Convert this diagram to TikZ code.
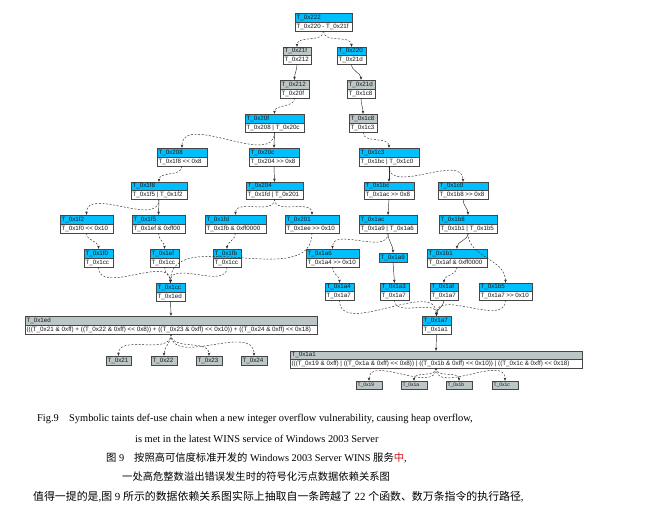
\documentclass[tikz,border=0pt]{standalone}
\usepackage{fontspec}
\setmainfont{Liberation Serif}
\newfontfamily\nodefont{Liberation Sans}
\newfontfamily\cjk{Noto Sans CJK SC}
\usetikzlibrary{fit,calc,arrows.meta}
\definecolor{hcyan}{RGB}{0,191,255}
\definecolor{hgray}{RGB}{188,198,198}
\definecolor{edgec}{RGB}{45,45,45}
\definecolor{bordc}{RGB}{70,70,70}
\definecolor{redchar}{RGB}{210,20,20}
\tikzset{
  recframe/.style={rectangle, inner sep=0pt, fill=white, draw=none},
  recline/.style={draw=bordc, line width=0.45pt},
  boxshadow/.style={fill=black!55},
  rectxt/.style={inner sep=0pt, anchor=west, text=black!90, font=\nodefont\fontsize{6.2}{6.2}\selectfont},
  smalltxt/.style={rectxt, font=\nodefont\fontsize{5}{5}\selectfont},
  dep/.style={-{Stealth[length=3.2pt,width=2.6pt]}, line width=0.45pt, draw=edgec},
  dashdep/.style={dep, dash pattern=on 2pt off 1.6pt},
  captxt/.style={inner sep=0pt, anchor=west, font=\fontsize{10.4}{12}\selectfont},
  capcjk/.style={inner sep=0pt, anchor=west, font=\fontsize{10.3}{12}\selectfont},
  bodytxt/.style={inner sep=0pt, anchor=west, font=\fontsize{10.9}{12}\selectfont}
}
\newcommand\widetxt{\fontsize{6.3}{6.3}\selectfont}
% #1 name, #2 x1, #3 y1, #4 x2, #5 y2, #6 header colour, #7 header, #8 body
\newcommand\recnode[8]{%
  \coordinate (#1-nw) at (#2,#3);
  \coordinate (#1-se) at (#4,#5);
  \fill[boxshadow] ($(#1-nw)+(0.9,0.9)$) rectangle ($(#1-se)+(0.9,0.9)$);
  \node[recframe, fit=(#1-nw)(#1-se)] (#1) {};
  \fill[#6] (#1.north west) rectangle (#1.east);
  \draw[recline] (#1.west) -- (#1.east);
  \draw[recline] (#1.north west) rectangle (#1.south east);
  \node[rectxt] at ($(#1.north west)!0.5!(#1.west)+(1.6,0.2)$) {#7};
  \node[rectxt] at ($(#1.west)!0.5!(#1.south west)+(1.6,0.2)$) {#8};
}
% #1 name, #2 x1, #3 y1, #4 x2, #5 y2, #6 colour, #7 text, #8 text style
\newcommand\onenode[8]{%
  \coordinate (#1-nw) at (#2,#3);
  \coordinate (#1-se) at (#4,#5);
  \fill[boxshadow] ($(#1-nw)+(0.9,0.9)$) rectangle ($(#1-se)+(0.9,0.9)$);
  \node[recframe, fill=#6, fit=(#1-nw)(#1-se)] (#1) {};
  \draw[recline] (#1.north west) rectangle (#1.south east);
  \node[#8] at ($(#1.west)+(1.6,0.2)$) {#7};
}
\begin{document}
\begin{tikzpicture}[x=1pt,y=-1pt]
\fill[white] (0,0) rectangle (649,510);
\useasboundingbox (0,0) rectangle (649,510);

\recnode{n222}{295}{13}{352}{31}{hcyan}{T\_0x222}{T\_0x220 - T\_0x21f}
\recnode{n21f}{283}{47}{311}{64}{hgray}{T\_0x21f}{T\_0x212}
\recnode{n220}{337}{47}{366}{64}{hcyan}{T\_0x220}{T\_0x21d}
\recnode{n212}{280}{80}{309}{98}{hgray}{T\_0x212}{T\_0x20f}
\recnode{n21d}{347}{80}{375}{98}{hgray}{T\_0x21d}{T\_0x1c8}
\recnode{n20f}{245}{114}{304}{132}{hcyan}{T\_0x20f}{T\_0x208 | T\_0x20c}
\recnode{n1c8}{349}{114}{377}{132}{hgray}{T\_0x1c8}{T\_0x1c3}
\recnode{n208}{157}{148}{207}{166}{hcyan}{T\_0x208}{T\_0x1f8 << 0x8}
\recnode{n20c}{249}{148}{299}{166}{hcyan}{T\_0x20c}{T\_0x204 >> 0x8}
\recnode{n1c3}{359}{148}{419}{166}{hcyan}{T\_0x1c3}{T\_0x1bc | T\_0x1c0}
\recnode{n1f8}{131}{182}{187}{199}{hcyan}{T\_0x1f8}{T\_0x1f5 | T\_0x1f2}
\recnode{n204}{246}{182}{303}{199}{hcyan}{T\_0x204}{T\_0x1fd | T\_0x201}
\recnode{n1bc}{364}{182}{414}{199}{hcyan}{T\_0x1bc}{T\_0x1ac >> 0x8}
\recnode{n1c0}{438}{182}{488}{199}{hcyan}{T\_0x1c0}{T\_0x1b8 >> 0x8}
\recnode{n1f2}{60}{215}{113}{233}{hcyan}{T\_0x1f2}{T\_0x1f0 << 0x10}
\recnode{n1f5}{132}{215}{185}{233}{hcyan}{T\_0x1f5}{T\_0x1ef \& 0xff00}
\recnode{n1fd}{205}{215}{266}{233}{hcyan}{T\_0x1fd}{T\_0x1fb \& 0xff0000}
\recnode{n201}{285}{215}{339}{233}{hcyan}{T\_0x201}{T\_0x1ee >> 0x10}
\recnode{n1ac}{359}{215}{417}{233}{hcyan}{T\_0x1ac}{T\_0x1a9 | T\_0x1a6}
\recnode{n1b8}{439}{215}{497}{233}{hcyan}{T\_0x1b8}{T\_0x1b1 | T\_0x1b5}
\recnode{n1f0}{84}{249}{113}{267}{hcyan}{T\_0x1f0}{T\_0x1cc}
\recnode{n1ef}{150}{249}{179}{267}{hcyan}{T\_0x1ef}{T\_0x1cc}
\recnode{n1fb}{213}{249}{241}{267}{hcyan}{T\_0x1fb}{T\_0x1cc}
\recnode{n1a6}{306}{249}{359}{267}{hcyan}{T\_0x1a6}{T\_0x1a4 >> 0x10}
\onenode{n1a9}{379}{253}{407}{262}{hcyan}{T\_0x1a9}{rectxt}
\recnode{n1b1}{427}{249}{487}{267}{hcyan}{T\_0x1b1}{T\_0x1af \& 0xff0000}
\recnode{n1cc}{156}{283}{185}{301}{hcyan}{T\_0x1cc}{T\_0x1ed}
\recnode{n1a4}{325}{283}{354}{300}{hcyan}{T\_0x1a4}{T\_0x1a7}
\recnode{n1a3}{380}{283}{409}{300}{hcyan}{T\_0x1a3}{T\_0x1a7}
\recnode{n1af}{430}{283}{458}{300}{hcyan}{T\_0x1af}{T\_0x1a7}
\recnode{n1b5}{479}{283}{532}{300}{hcyan}{T\_0x1b5}{T\_0x1a7 >> 0x10}
\recnode{n1ed}{25}{316}{317}{334}{hgray}{T\_0x1ed}{\widetxt(((T\_0x21 \& 0xff) + ((T\_0x22 \& 0xff) << 0x8)) + ((T\_0x23 \& 0xff) << 0x10)) + ((T\_0x24 \& 0xff) << 0x18)}
\recnode{n1a7}{422}{316}{451}{334}{hcyan}{T\_0x1a7}{T\_0x1a1}
\recnode{n1a1}{290}{351}{582}{368}{hgray}{T\_0x1a1}{\widetxt(((T\_0x19 \& 0xff) | ((T\_0x1a \& 0xff) << 0x8)) | ((T\_0x1b \& 0xff) << 0x10)) | ((T\_0x1c \& 0xff) << 0x18)}
\onenode{l21}{106}{356}{131}{365}{hgray}{T\_0x21}{rectxt}
\onenode{l22}{151}{356}{177}{365}{hgray}{T\_0x22}{rectxt}
\onenode{l23}{196}{356}{222}{365}{hgray}{T\_0x23}{rectxt}
\onenode{l24}{241}{356}{267}{365}{hgray}{T\_0x24}{rectxt}
\onenode{l19}{356}{381}{382}{389}{hgray}{T\_0x19}{smalltxt}
\onenode{l1a}{401}{381}{427}{389}{hgray}{T\_0x1a}{smalltxt}
\onenode{l1b}{446}{381}{472}{389}{hgray}{T\_0x1b}{smalltxt}
\onenode{l1c}{492}{381}{518}{389}{hgray}{T\_0x1c}{smalltxt}

% connectors
\draw[dashdep] (n222.south) to[out=-90,in=90] (n21f.north);
\draw[dashdep] (n222.south) to[out=-90,in=90] (n220.north);
\draw[dep] (n21f.south) to[out=-90,in=90] (n212.north);
\draw[dep] (n220.south) to[out=-90,in=90] (n21d.north);
\draw[dashdep] (n212.south) to[out=-90,in=90] (n20f.north);
\draw[dep] (n21d.south) to[out=-90,in=90] (n1c8.north);
\draw[dashdep] (n20f.south) to[out=-90,in=90] (n208.north);
\draw[dep] (n20f.south) -- (n20c.north);
\draw[dashdep] (n1c8.south) to[out=-90,in=90] (n1c3.north);
\draw[dashdep] (n208.south) to[out=-90,in=90] (n1f8.north);
\draw[dep] (n20c.south) -- (n204.north);
\draw[dep] (n1c3.south) -- (n1bc.north);
\draw[dashdep] (n1c3.south) to[out=-90,in=90] (n1c0.north);
\draw[dashdep] (n1f8.south) to[out=-90,in=90] (n1f2.north);
\draw[dep] (n1f8.south) -- (n1f5.north);
\draw[dashdep] (n204.south) to[out=-90,in=90] (n1fd.north);
\draw[dashdep] (n204.south) to[out=-90,in=90] (n201.north);
\draw[dep] (n1bc.south) -- (n1ac.north);
\draw[dep] (n1c0.south) to[out=-90,in=90] (n1b8.north);
\draw[dashdep] (n1f2.south) to[out=-90,in=90] (n1f0.north);
\draw[dashdep] (n1f5.south) to[out=-90,in=90] (n1ef.north);
\draw[dashdep] (n1fd.south) to[out=-90,in=90] (n1fb.north);
\draw[dashdep] (n1ac.south) to[out=-90,in=90] (n1a6.north);
\draw[dep] (n1ac.south) to[out=-90,in=90] (n1a9.north);
\draw[dep] (n1b8.south) to[out=-90,in=90] (n1b1.north);
\draw[dashdep] (n1b8.south) to[out=-90,in=90] (n1b5.north);
\draw[dashdep] (n1f0.south) to[out=-90,in=90] (n1cc.north);
\draw[dashdep] (n1ef.south) to[out=-90,in=90] (n1cc.north);
\draw[dashdep] (n1fb.south) to[out=-90,in=90] (n1cc.north);
\draw[dashdep] (n201.south) to[out=-90,in=90] (n1cc.north);
\draw[dashdep] (n1a6.south) to[out=-90,in=90] (n1a4.north);
\draw[dep] (n1a9.south) -- (n1a3.north);
\draw[dashdep] (n1b1.south) to[out=-90,in=90] (n1af.north);
\draw[dashdep] (n1a4.south) to[out=-90,in=90] (n1a7.north);
\draw[dashdep] (n1a3.south) to[out=-90,in=90] (n1a7.north);
\draw[dep] (n1af.south) to[out=-90,in=90] (n1a7.north);
\draw[dashdep] (n1b5.south) to[out=-90,in=90] (n1a7.north);
\draw[dep] (n1cc.south) -- (n1ed.north);
\draw[dep] (n1a7.south) -- (n1a1.north);
\draw[dashdep] (n1ed.south) to[out=-90,in=90] (l21.north);
\draw[dashdep] (n1ed.south) to[out=-90,in=90] (l22.north);
\draw[dashdep] (n1ed.south) to[out=-90,in=90] (l23.north);
\draw[dashdep] (n1ed.south) to[out=-90,in=90] (l24.north);
\draw[dashdep] (n1a1.south) to[out=-90,in=90] (l19.north);
\draw[dashdep] (n1a1.south) to[out=-90,in=90] (l1a.north);
\draw[dashdep] (n1a1.south) to[out=-90,in=90] (l1b.north);
\draw[dashdep] (n1a1.south) to[out=-90,in=90] (l1c.north);

% caption
\node[captxt] (c1a) at (37,419) {Fig.9};
\node[captxt] (c1b) at (69,419) {Symbolic taints def-use chain when a new integer overflow vulnerability, causing heap overflow,};
\node[captxt] (c2) at (135,439) {is met in the latest WINS service of Windows 2003 Server};
\node[capcjk] (c3a) at (106,458) {{\cjk 图} 9};
\node[capcjk] (c3b) at (134,458) {{\cjk 按照高可信度标准开发的} Windows 2003 Server WINS {\cjk 服务\textcolor{redchar}{中}},};
\node[capcjk] (c4) at (122,477) {\cjk 一处高危整数溢出错误发生时的符号化污点数据依赖关系图};
\node[bodytxt] (c5) at (33,497) {{\cjk 值得一提的是},{\cjk 图} 9 {\cjk 所示的数据依赖关系图实际上抽取自一条跨越了} 22 {\cjk 个函数、数万条指令的执行路径},};
\end{tikzpicture}
\end{document}
